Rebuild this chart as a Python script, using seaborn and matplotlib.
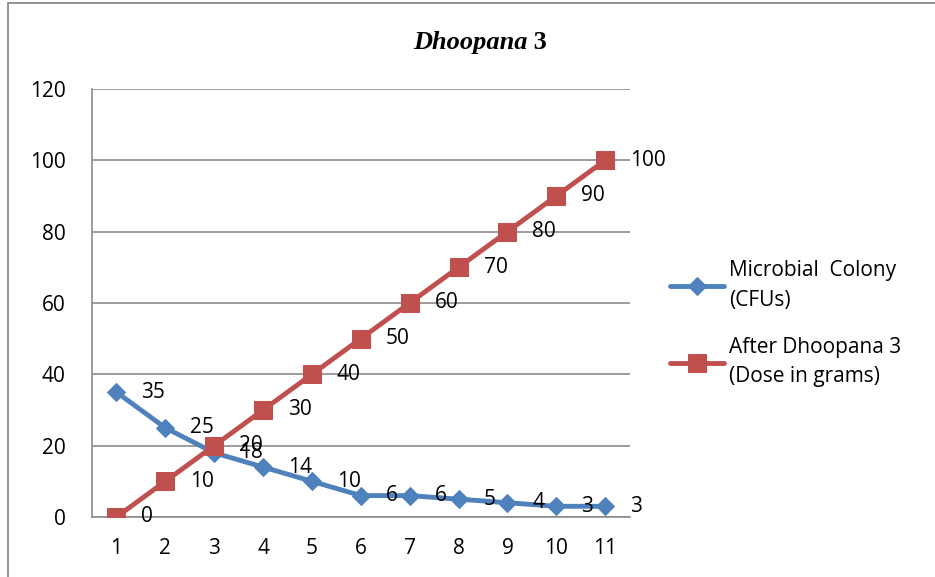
import matplotlib
matplotlib.use("Agg")
import matplotlib.pyplot as plt
from matplotlib.patches import Rectangle
import seaborn as sns
import pandas as pd

days = [1, 2, 3, 4, 5, 6, 7, 8, 9, 10, 11]
colony_cfu = [35, 25, 18, 14, 10, 6, 6, 5, 4, 3, 3]
dose_grams = [0, 10, 20, 30, 40, 50, 60, 70, 80, 90, 100]
series_names = ["Microbial  Colony\n(CFUs)", "After Dhoopana 3\n(Dose in grams)"]
y_ticks = [0, 20, 40, 60, 80, 100, 120]

BLUE = "#4F81BD"
RED = "#C0504D"
GRID = "#8C8C8C"
FS = 15

sns.set_theme(style="white")
plt.rcParams["font.family"] = ["Open Sans", "DejaVu Sans"]
plt.rcParams["text.color"] = "black"

fig = plt.figure(figsize=(9.35, 5.77), dpi=100)
ax = fig.add_axes([0.0984, 0.104, 0.575, 0.7418])

# outer chart frame
fig.patches.append(Rectangle((8 / 935, -0.05), 1.2, (577 - 3) / 577 + 0.05,
                             transform=fig.transFigure, fill=False,
                             edgecolor="#7F7F7F", linewidth=1.2))

df = pd.DataFrame({"day": days + days,
                   "value": colony_cfu + dose_grams,
                   "series": [series_names[0]] * len(days) + [series_names[1]] * len(days)})

sns.lineplot(data=df[df.series == series_names[0]], x="day", y="value", ax=ax,
             color=BLUE, linewidth=3.5, marker="D", markersize=9.5,
             markeredgecolor=BLUE, label=series_names[0], zorder=3)
sns.lineplot(data=df[df.series == series_names[1]], x="day", y="value", ax=ax,
             color=RED, linewidth=3.5, marker="s", markersize=13,
             markeredgecolor=RED, label=series_names[1], zorder=3)

# value labels to the right of each point
for xs, ys in ((days, colony_cfu), (days, dose_grams)):
    for x, y in zip(xs, ys):
        ax.annotate(f"{y}", (x, y), xytext=(18, 0), textcoords="offset points",
                    ha="left", va="center", fontsize=FS, color="black", zorder=5)

ax.set_xlim(0.5, 11.5)
ax.set_ylim(0, 120)
ax.set_xticks(days)
ax.set_yticks(y_ticks)
ax.tick_params(axis="both", labelsize=FS, length=0, colors="black")
ax.tick_params(axis="x", pad=15)
ax.tick_params(axis="y", pad=19)
ax.set_xlabel("")
ax.set_ylabel("")
ax.yaxis.grid(True, color=GRID, linewidth=1.2)
ax.xaxis.grid(False)
for side in ("top", "right"):
    ax.spines[side].set_visible(False)
for side in ("left", "bottom"):
    ax.spines[side].set_color(GRID)
    ax.spines[side].set_linewidth(1.2)

leg = ax.legend(loc="center left", bbox_to_anchor=(1.075, 0.452), frameon=False,
                fontsize=FS, handlelength=2.6, handletextpad=0.25,
                labelspacing=1.25, borderaxespad=0, borderpad=0)
for t in leg.get_texts():
    t.set_linespacing(1.55)
    t.set_color("black")

# title: italic bold name followed by upright bold number
TITLE_FS = 19
t1 = fig.text(0.5, 0.926, "Dhoopana", ha="left", va="center", fontsize=TITLE_FS,
              family="Liberation Serif", weight="bold", style="italic", color="black")
t3 = fig.text(0.5, 0.926, "\u00a03", ha="left", va="center", fontsize=TITLE_FS,
              family="Liberation Serif", weight="bold", color="black")
fig.canvas.draw()
r = fig.canvas.get_renderer()
w1 = t1.get_window_extent(r).width
w3 = t3.get_window_extent(r).width
left = 480 - (w1 + w3) / 2
t1.set_x(left / 935)
t3.set_x((left + w1) / 935)

fig.savefig("out.png", dpi=100)
